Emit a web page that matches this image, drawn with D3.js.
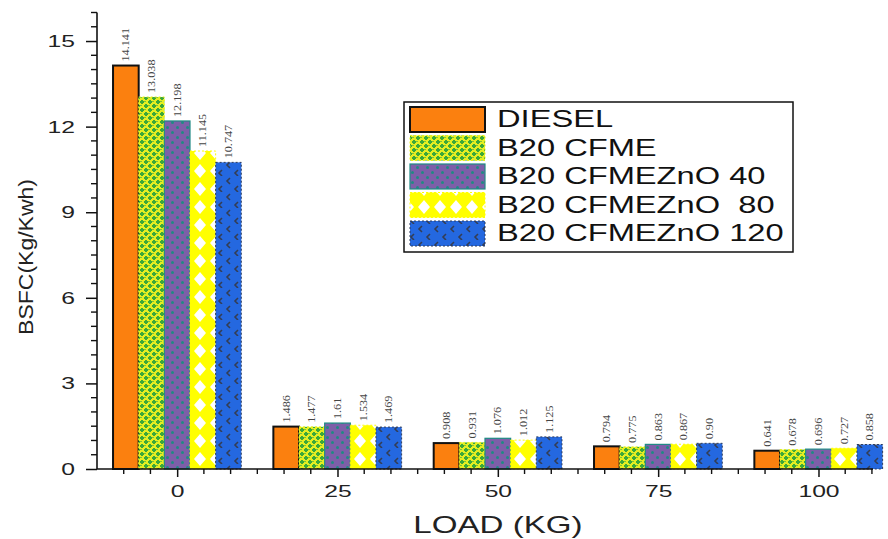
<!DOCTYPE html>
<html>
<head>
<meta charset="utf-8">
<script src="https://cdn.jsdelivr.net/npm/d3@7"></script>
<style>
  html, body { margin: 0; padding: 0; background: #fff; }
  svg { display: block; font-family: "Liberation Sans", Arial, sans-serif; }
</style>
</head>
<body>
<svg id="chart" width="888" height="539"></svg>
<script>
// Engine load groups (kg)
const loads = [0, 25, 50, 75, 100];
const seriesNames = ["DIESEL", "B20 CFME", "B20 CFMEZnO 40", "B20 CFMEZnO  80", "B20 CFMEZnO 120"];
// BSFC (kg/kWh) per fuel, one value per load
const diesel   = [14.141, 1.486, 0.908, 0.794, 0.641];
const cfme     = [13.038, 1.477, 0.931, 0.775, 0.678];
const zno40    = [12.198, 1.61, 1.076, 0.863, 0.696];
const zno80    = [11.145, 1.534, 1.012, 0.867, 0.727];
const zno120   = [10.747, 1.469, 1.125, 0.90, 0.858];
const valueLabels = [
  ["14.141", "1.486", "0.908", "0.794", "0.641"],
  ["13.038", "1.477", "0.931", "0.775", "0.678"],
  ["12.198", "1.61", "1.076", "0.863", "0.696"],
  ["11.145", "1.534", "1.012", "0.867", "0.727"],
  ["10.747", "1.469", "1.125", "0.90", "0.858"]
];
const yTicks = [0, 3, 6, 9, 12, 15];
const series = [diesel, cfme, zno40, zno80, zno120];

const svg = d3.select("#chart");
const defs = svg.append("defs");

// Widen text horizontally (the typeface is set wide)
function stretch(sel, k) {
  sel.each(function () {
    const len = this.getComputedTextLength();
    d3.select(this).attr("textLength", len * k).attr("lengthAdjust", "spacingAndGlyphs");
  });
}

// Fill patterns for each fuel
function pattern(id, w, h, bg, draw) {
  const p = defs.append("pattern").attr("id", id)
    .attr("patternUnits", "userSpaceOnUse").attr("width", w).attr("height", h);
  p.append("rect").attr("width", w).attr("height", h).attr("fill", bg);
  draw(p);
}
pattern("p-cfme", 8, 8, "#e4ee22", p => {
  p.append("path").attr("d", "M1,0h2v1h1v2h-1v1h-2v-1h-1v-2h1z").attr("fill", "#3aa83a");
  p.append("path").attr("d", "M5,4h2v1h1v2h-1v1h-2v-1h-1v-2h1z").attr("fill", "#3aa83a");
  p.append("rect").attr("x", 4).attr("y", 1).attr("width", 2).attr("height", 1).attr("fill", "#7cc23a");
  p.append("rect").attr("x", 0).attr("y", 5).attr("width", 2).attr("height", 1).attr("fill", "#7cc23a");
});
pattern("p-z40", 10, 10, "#7d5fa8", p => {
  p.append("circle").attr("cx", 2.5).attr("cy", 2.5).attr("r", 1.5).attr("fill", "#1f8a84");
  p.append("circle").attr("cx", 7.5).attr("cy", 7.5).attr("r", 1.5).attr("fill", "#1f8a84");
});
pattern("p-z80", 16, 18, "#ffff00", p => {
  p.append("path").attr("d", "M8,2L14,9L8,16L2,9Z").attr("fill", "#ffffff");
});
pattern("p-z120", 16, 16, "#2468e0", p => {
  p.append("path").attr("d", "M6,2L3,5L6,8M14,10L11,13L14,16").attr("fill", "none")
    .attr("stroke", "#333d55").attr("stroke-width", 1.6);
});

const fills = ["#fb800f", "url(#p-cfme)", "url(#p-z40)", "url(#p-z80)", "url(#p-z120)"];
const strokes = ["#111", "#e6f020", "#1f8a84", "#ffff00", "#2d3b5a"];
const strokeW = [2, 1, 1.2, 1, 1];
const dashes = [null, "2,2", null, "2,2", "2,2"];

const x = d3.scaleLinear().domain([-12.5, 108.5]).range([97, 873]);
const y = d3.scaleLinear().domain([0, 16]).range([469, 12.5]);
const barW = 4;

// Bars
series.forEach((vals, si) => {
  const g = svg.append("g");
  vals.forEach((v, li) => {
    const x0 = x(loads[li] - 10 + si * barW);
    const x1 = x(loads[li] - 10 + (si + 1) * barW);
    g.append("rect")
      .attr("x", x0).attr("y", y(v))
      .attr("width", x1 - x0).attr("height", y(0) - y(v))
      .attr("fill", fills[si])
      .attr("stroke", strokes[si]).attr("stroke-width", strokeW[si])
      .attr("stroke-dasharray", dashes[si]);
    // value label, rotated
    const cx = (x0 + x1) / 2;
    g.append("text")
      .attr("class", "val")
      .attr("transform", `translate(${cx + 3.5},${y(v) - 4}) rotate(-90)`)
      .attr("font-family", "'Liberation Serif', 'Times New Roman', serif")
      .attr("font-size", 10).attr("fill", "#444")
      .text(valueLabels[si][li]);
  });
});
stretch(svg.selectAll("text.val"), 1.22);

// Y axis
const yAxis = d3.axisLeft(y).tickValues(yTicks).tickSize(11).tickPadding(11).tickFormat(d3.format("d"));
const ya = svg.append("g").attr("transform", "translate(97,0)").call(yAxis);
ya.select(".domain").attr("stroke", "#111").attr("stroke-width", 1.6).attr("d", `M0,${y(16)}V${y(0)}`);
ya.selectAll(".tick line").attr("stroke", "#111").attr("stroke-width", 1.5);
ya.selectAll(".tick text").attr("font-size", 17).attr("fill", "#222").attr("font-family", "'Liberation Sans', Arial, sans-serif");
stretch(ya.selectAll(".tick text"), 1.45);
const yMinor = d3.range(0, 16.01, 0.5).filter(v => v % 3 !== 0);
svg.append("g").selectAll("line").data(yMinor).join("line")
  .attr("x1", 91).attr("x2", 97).attr("y1", d => y(d)).attr("y2", d => y(d))
  .attr("stroke", "#111").attr("stroke-width", 1.4);

// X axis
const xAxis = d3.axisBottom(x).tickValues(loads).tickSize(8).tickPadding(8).tickFormat(d3.format("d"));
const xa = svg.append("g").attr("transform", "translate(0,469)").call(xAxis);
xa.select(".domain").attr("stroke", "#111").attr("stroke-width", 1.6).attr("d", `M${x(-12.5)},0H${x(108.5)}`);
xa.selectAll(".tick line").attr("stroke", "#111").attr("stroke-width", 1.5);
xa.selectAll(".tick text").attr("font-size", 17).attr("fill", "#222").attr("font-family", "'Liberation Sans', Arial, sans-serif");
stretch(xa.selectAll(".tick text"), 1.45);
const xMinor = d3.range(-25 / 6 * 2, 108.5, 25 / 6).filter(v => Math.abs(v / 25 - Math.round(v / 25)) > 0.01);
svg.append("g").selectAll("line").data(xMinor).join("line")
  .attr("x1", d => x(d)).attr("x2", d => x(d)).attr("y1", 469).attr("y2", 474)
  .attr("stroke", "#111").attr("stroke-width", 1.4);

// Axis titles
const xt = svg.append("text").attr("x", 498).attr("y", 533).attr("text-anchor", "middle")
  .attr("font-size", 24).attr("fill", "#222").text("LOAD (KG)");
stretch(xt, 1.38);
const yt = svg.append("text").attr("transform", "translate(33,257) rotate(-90)").attr("text-anchor", "middle")
  .attr("font-size", 20).attr("fill", "#222").text("BSFC(Kg/Kwh)");
stretch(yt, 1.15);

// Legend
const lg = svg.append("g");
lg.append("rect").attr("x", 404).attr("y", 102).attr("width", 389).attr("height", 150)
  .attr("fill", "#fff").attr("stroke", "#111").attr("stroke-width", 1.5);
seriesNames.forEach((name, i) => {
  const top = 107 + i * 28.5;
  lg.append("rect").attr("x", 410).attr("y", top).attr("width", 75).attr("height", 25)
    .attr("fill", fills[i]).attr("stroke", strokes[i]).attr("stroke-width", strokeW[i])
    .attr("stroke-dasharray", dashes[i]);
  const t = lg.append("text").attr("x", 497).attr("y", top + 20).attr("font-size", 24)
    .attr("fill", "#111").attr("xml:space", "preserve").style("white-space", "pre").text(name);
  stretch(t, 1.36);
});
</script>
</body>
</html>
